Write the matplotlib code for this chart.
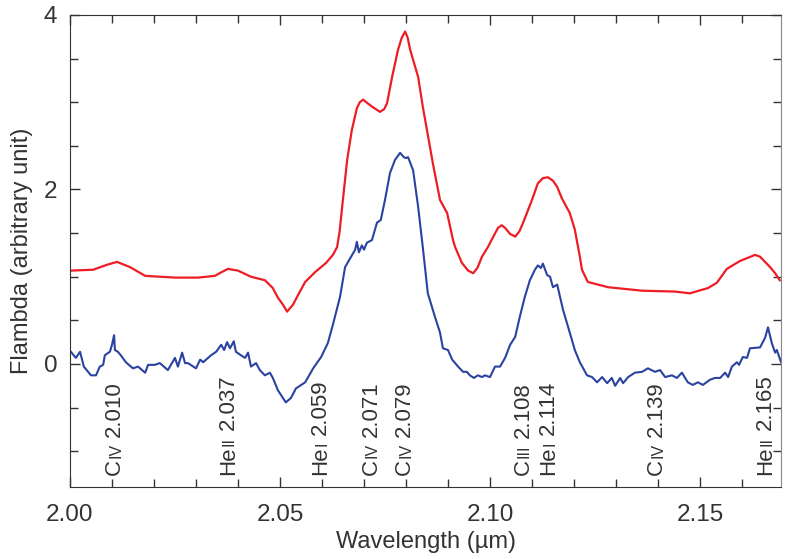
import matplotlib
matplotlib.use("Agg")
import matplotlib.pyplot as plt
from matplotlib.ticker import MultipleLocator, FormatStrFormatter

# spectrum values
red_wl = [2.0000, 2.0055, 2.0090, 2.0112, 2.0143, 2.0179, 2.0250, 2.0305, 2.0345, 2.0360,
          2.0376, 2.0400, 2.0431, 2.0464, 2.0483, 2.0495, 2.0507, 2.0517, 2.0531, 2.0543,
          2.0560, 2.0583, 2.0610, 2.0626, 2.0636, 2.0642, 2.0648, 2.0660, 2.0671, 2.0683,
          2.0690, 2.0698, 2.0708, 2.0719, 2.0738, 2.0748, 2.0755, 2.0767, 2.0781, 2.0790,
          2.0798, 2.0804, 2.0810, 2.0829, 2.0840, 2.0850, 2.0864, 2.0881, 2.0898, 2.0912,
          2.0917, 2.0933, 2.0948, 2.0960, 2.0970, 2.0981, 2.0995, 2.1019, 2.1028, 2.1036,
          2.1048, 2.1060, 2.1070, 2.1079, 2.1100, 2.1114, 2.1126, 2.1138, 2.1150, 2.1160,
          2.1171, 2.1190, 2.1202, 2.1214, 2.1219, 2.1233, 2.1281, 2.1362, 2.1440, 2.1476,
          2.1519, 2.1540, 2.1564, 2.1595, 2.1631, 2.1643, 2.1667, 2.1679, 2.1690]
red_flux = [1.07, 1.08, 1.14, 1.17, 1.11, 1.01, 0.99, 0.99, 1.01, 1.05,
            1.09, 1.07, 1.00, 0.96, 0.87, 0.76, 0.68, 0.60, 0.68, 0.79,
            0.94, 1.05, 1.16, 1.25, 1.34, 1.52, 1.80, 2.34, 2.68, 2.93,
            3.00, 3.03, 2.99, 2.95, 2.89, 2.92, 2.99, 3.29, 3.60, 3.74,
            3.81, 3.74, 3.60, 3.29, 2.95, 2.68, 2.30, 1.88, 1.73, 1.42,
            1.34, 1.16, 1.07, 1.04, 1.10, 1.23, 1.34, 1.56, 1.59, 1.56,
            1.49, 1.46, 1.52, 1.62, 1.88, 2.07, 2.13, 2.14, 2.10, 2.03,
            1.90, 1.73, 1.54, 1.23, 1.08, 0.94, 0.88, 0.84, 0.83, 0.81,
            0.87, 0.93, 1.09, 1.18, 1.25, 1.23, 1.11, 1.04, 0.96]

blue_wl = [2.0002, 2.0014, 2.0024, 2.0033, 2.0050, 2.0062, 2.0071, 2.0079, 2.0083, 2.0095,
           2.0100, 2.0105, 2.0107, 2.0114, 2.0121, 2.0133, 2.0150, 2.0162, 2.0179, 2.0186,
           2.0202, 2.0214, 2.0233, 2.0250, 2.0257, 2.0267, 2.0274, 2.0281, 2.0300, 2.0310,
           2.0317, 2.0336, 2.0348, 2.0360, 2.0367, 2.0374, 2.0381, 2.0390, 2.0395, 2.0407,
           2.0417, 2.0424, 2.0431, 2.0443, 2.0452, 2.0464, 2.0476, 2.0483, 2.0495, 2.0507,
           2.0514, 2.0526, 2.0538, 2.0560, 2.0579, 2.0598, 2.0614, 2.0626, 2.0643, 2.0655,
           2.0667, 2.0679, 2.0683, 2.0688, 2.0695, 2.0700, 2.0707, 2.0719, 2.0731, 2.0740,
           2.0750, 2.0762, 2.0774, 2.0786, 2.0795, 2.0800, 2.0805, 2.0817, 2.0829, 2.0840,
           2.0852, 2.0869, 2.0881, 2.0888, 2.0900, 2.0910, 2.0924, 2.0936, 2.0945, 2.0952,
           2.0962, 2.0971, 2.0981, 2.0988, 2.1000, 2.1012, 2.1024, 2.1036, 2.1048, 2.1060,
           2.1071, 2.1083, 2.1095, 2.1107, 2.1114, 2.1121, 2.1126, 2.1136, 2.1143, 2.1150,
           2.1160, 2.1174, 2.1190, 2.1202, 2.1214, 2.1231, 2.1243, 2.1255, 2.1267, 2.1279,
           2.1290, 2.1298, 2.1310, 2.1317, 2.1329, 2.1345, 2.1362, 2.1376, 2.1393, 2.1405,
           2.1417, 2.1433, 2.1445, 2.1457, 2.1471, 2.1483, 2.1495, 2.1507, 2.1524, 2.1536,
           2.1548, 2.1560, 2.1567, 2.1576, 2.1588, 2.1593, 2.1602, 2.1612, 2.1619, 2.1643,
           2.1655, 2.1662, 2.1671, 2.1679, 2.1683, 2.1693]
blue_flux = [0.14, 0.07, 0.14, -0.03, -0.13, -0.13, -0.03, -0.01, 0.10, 0.14,
             0.22, 0.33, 0.16, 0.14, 0.10, 0.02, -0.05, -0.03, -0.10, -0.01,
             -0.01, 0.01, -0.07, 0.07, -0.03, 0.13, 0.01, 0.01, -0.05, 0.05,
             0.02, 0.10, 0.14, 0.22, 0.16, 0.25, 0.18, 0.26, 0.14, 0.10,
             0.07, 0.13, -0.03, 0.01, -0.07, -0.13, -0.10, -0.16, -0.30, -0.39,
             -0.44, -0.39, -0.28, -0.21, -0.05, 0.08, 0.24, 0.45, 0.77, 1.11,
             1.21, 1.31, 1.40, 1.28, 1.36, 1.31, 1.39, 1.42, 1.62, 1.65,
             1.88, 2.19, 2.34, 2.42, 2.37, 2.36, 2.37, 2.22, 1.80, 1.34,
             0.81, 0.54, 0.36, 0.18, 0.16, 0.05, -0.03, -0.09, -0.09, -0.13,
             -0.16, -0.13, -0.15, -0.13, -0.15, -0.03, -0.03, 0.07, 0.22, 0.31,
             0.54, 0.77, 0.96, 1.08, 1.13, 1.10, 1.15, 1.02, 1.00, 0.88,
             0.91, 0.62, 0.36, 0.16, 0.02, -0.13, -0.15, -0.21, -0.15, -0.22,
             -0.16, -0.25, -0.16, -0.22, -0.15, -0.10, -0.09, -0.05, -0.09, -0.07,
             -0.15, -0.13, -0.16, -0.10, -0.21, -0.24, -0.21, -0.24, -0.18, -0.16,
             -0.16, -0.10, -0.15, -0.03, 0.02, -0.01, 0.08, 0.07, 0.18, 0.19,
             0.30, 0.42, 0.24, 0.13, 0.16, 0.02]

# line identifications: element, ionisation stage, wavelength
line_ion = ["C", "He", "He", "C", "C", "C", "He", "C", "He"]
line_stage = ["IV", "II", "I", "IV", "IV", "III", "I", "IV", "II"]
line_wl = ["2.010", "2.037", "2.059", "2.071", "2.079", "2.108", "2.114", "2.139", "2.165"]

grey = "#333333"
plt.rcParams["font.family"] = ["Liberation Sans", "DejaVu Sans"]

fig = plt.figure(figsize=(7.89, 5.59), dpi=100)
ax = fig.add_axes([0.0887, 0.1288, 0.9012, 0.8444])

ax.plot(red_wl, red_flux, color="#ee1c25", lw=1.6)
ax.plot(blue_wl, blue_flux, color="#2a43a0", lw=1.5)

ax.set_xlim(2.0, 2.1693)
ax.set_ylim(-1.41, 4.0)
ax.xaxis.set_major_locator(MultipleLocator(0.05))
ax.xaxis.set_minor_locator(MultipleLocator(0.01))
ax.yaxis.set_major_locator(MultipleLocator(2))
ax.yaxis.set_minor_locator(MultipleLocator(0.5))
ax.xaxis.set_major_formatter(FormatStrFormatter("%.2f"))
ax.yaxis.set_major_formatter(FormatStrFormatter("%d"))
ax.tick_params(which="both", direction="in", top=True, right=True, colors=grey,
               labelsize=17.5, width=1.0)
ax.tick_params(which="major", length=7)
ax.tick_params(which="minor", length=6)
ax.tick_params(axis="x", which="major", pad=12)
ax.tick_params(axis="y", which="major", pad=9)
for side in ["left", "bottom", "top"]:
    ax.spines[side].set_color(grey)
ax.spines["right"].set_color("#888888")

ax.set_xlabel("Wavelength (µm)", fontsize=17, color=grey, labelpad=4)
ax.set_ylabel("Flambda (arbitrary unit)", fontsize=17, color=grey, labelpad=8)

# vertical line labels, built from pieces so the stage numeral can be smaller
renderer = fig.canvas.get_renderer()
shift = {"2.108": -0.0008, "2.114": -0.0007}
for ion, stage, wl in zip(line_ion, line_stage, line_wl):
    xpos = float(wl) + shift.get(wl, 0.0)
    offset = 0.0
    for txt, size, gap in [(ion, 16, 0.8), (stage, 11.5, 4.5), (wl, 16, 0.0)]:
        t = ax.annotate(txt, xy=(xpos, 0.025), xycoords=("data", "axes fraction"),
                        xytext=(6, offset), textcoords="offset points",
                        rotation=90, rotation_mode="anchor", ha="left", va="baseline",
                        fontsize=size, color=grey)
        h = t.get_window_extent(renderer).height * 72 / fig.dpi
        offset += h + gap

fig.savefig("out.png", dpi=100)
